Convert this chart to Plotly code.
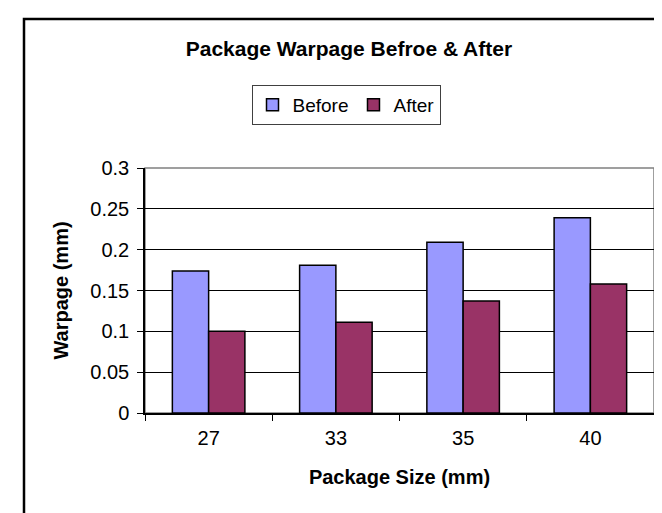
import plotly.graph_objects as go

categories = ["27", "33", "35", "40"]
before_vals = [0.174, 0.181, 0.209, 0.239]
after_vals = [0.100, 0.111, 0.137, 0.158]
y_ticks = [0, 0.05, 0.1, 0.15, 0.2, 0.25, 0.3]
y_tick_labels = ["0", "0.05", "0.1", "0.15", "0.2", "0.25", "0.3"]

FONT = "Liberation Sans, Arial, sans-serif"
W, H = 662, 513
L, R, T, B = 137, 16, 160, 108
pw, ph = W - L - R, H - T - B

fig = go.Figure()
fig.add_trace(go.Bar(name="Before", x=categories, y=before_vals,
                     marker=dict(color="#9999FF", line=dict(color="black", width=1.5))))
fig.add_trace(go.Bar(name="After", x=categories, y=after_vals,
                     marker=dict(color="#993366", line=dict(color="black", width=1.5))))

def px_x(p):
    return (p - L) / pw

def px_y(p):
    return (H - B - p) / ph

# plot area border (gray) and outer chart frame (black)
fig.add_shape(type="rect", xref="paper", yref="paper", x0=0, y0=0, x1=1, y1=1,
              line=dict(color="#808080", width=1.5), layer="below")
fig.add_shape(type="rect", xref="paper", yref="paper",
              x0=px_x(16), y0=px_y(600), x1=px_x(700), y1=px_y(11),
              line=dict(color="black", width=2.5))

fig.update_layout(
    width=W, height=H,
    margin=dict(l=L, r=R, t=T, b=B),
    paper_bgcolor="white", plot_bgcolor="white",
    font=dict(family=FONT, size=20, color="black"),
    barmode="group", bargap=0.43, bargroupgap=0,
    title=dict(text="<b>Package Warpage Befroe & After</b>", xref="container", x=0.515,
               xanchor="center", yref="container", y=1 - 41 / H, yanchor="middle",
               font=dict(size=21, family=FONT)),
    legend=dict(orientation="h", xanchor="center", x=px_x(338), yanchor="top", y=px_y(77),
                bordercolor="#404040", borderwidth=1, bgcolor="white",
                font=dict(size=19, family=FONT), itemwidth=30, tracegroupgap=0),
    showlegend=True,
)
fig.update_xaxes(
    type="category", showline=True, linecolor="black", linewidth=1.5,
    ticks="outside", tickson="boundaries", ticklen=6, tickcolor="black", tickwidth=1,
    showgrid=False, tickfont=dict(size=20), ticklabelstandoff=6,
    title=dict(text="<b>Package Size (mm)</b>", font=dict(size=20), standoff=22),
)
fig.update_yaxes(
    range=[0, 0.3], tickvals=y_ticks, ticktext=y_tick_labels,
    showline=True, linecolor="black", linewidth=1.5,
    ticks="outside", ticklen=6, tickcolor="black", tickwidth=1,
    showgrid=True, gridcolor="black", gridwidth=1, zeroline=False,
    tickfont=dict(size=20), ticklabelstandoff=4,
    title=dict(text="<b>Warpage (mm)</b>", font=dict(size=20), standoff=16),
)

fig.write_html("out.html")
